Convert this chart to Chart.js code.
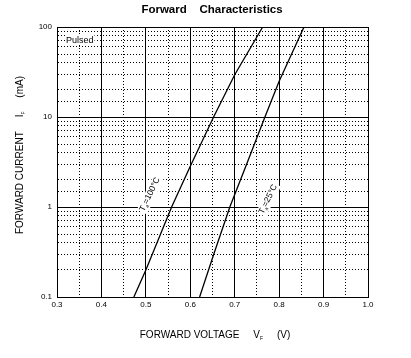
<!DOCTYPE html>
<html>
<head>
<meta charset="utf-8">
<script src="https://cdn.jsdelivr.net/npm/chart.js@4/dist/chart.umd.min.js"></script>
<style>
  html, body { margin: 0; padding: 0; background: #fff; }
  canvas { display: block; }
</style>
</head>
<body>
<canvas id="chart" width="411" height="358"></canvas>
<script>
// forward voltage (V) / forward current (mA)
const vf100 = [0.473, 0.5, 0.558, 0.6, 0.6525, 0.70, 0.763];
const if100 = [0.1, 0.2, 1, 2.83, 10, 29.5, 100];
const vf25 = [0.621, 0.653, 0.689, 0.727, 0.768, 0.80, 0.856];
const if25 = [0.1, 0.3, 1, 3, 10, 25, 100];
const yLabels = [0.1, 1, 10, 100];

const FONT = "'Liberation Sans', Arial, sans-serif";

const toPoints = (xs, ys) => xs.map((x, i) => ({ x: x, y: ys[i] }));
const isMajorX = v => Math.abs(v * 10 - Math.round(v * 10)) < 1e-6;
const isDecade = v => Math.abs(Math.log10(v) - Math.round(Math.log10(v))) < 1e-6;

// text drawn on top of the plot: notes, curve labels and axis titles
const notes = {
  id: "notes",
  afterDraw(chart) {
    const { ctx, scales, chartArea } = chart;
    const x = scales.x, y = scales.y;
    ctx.save();
    ctx.fillStyle = "#000";

    // "Pulsed"
    ctx.font = "9px " + FONT;
    ctx.textBaseline = "middle";
    ctx.textAlign = "left";
    const pw = ctx.measureText("Pulsed").width;
    ctx.fillStyle = "#fff";
    ctx.fillRect(chartArea.left + 8, 35, pw + 2, 10);
    ctx.fillStyle = "#000";
    ctx.fillText("Pulsed", chartArea.left + 9, 40.5);

    // Ta labels along the curves
    const tempLabel = (vx, vy, rest) => {
      const px = x.getPixelForValue(vx), py = y.getPixelForValue(vy);
      ctx.save();
      ctx.translate(px, py);
      ctx.rotate(-64 * Math.PI / 180);
      ctx.font = "8.5px " + FONT;
      const w1 = ctx.measureText("T").width;
      ctx.font = "5px " + FONT;
      const w2 = ctx.measureText("a").width;
      ctx.font = "8.5px " + FONT;
      const w3 = ctx.measureText(rest).width;
      const tw = w1 + w2 + w3;
      ctx.fillStyle = "#fff";
      ctx.fillRect(-tw / 2 - 1, -5, tw + 2, 11);
      ctx.fillStyle = "#000";
      ctx.textAlign = "left";
      ctx.textBaseline = "middle";
      ctx.fillText("T", -tw / 2, 0);
      ctx.font = "5px " + FONT;
      ctx.fillText("a", -tw / 2 + w1, 3);
      ctx.font = "8.5px " + FONT;
      ctx.fillText(rest, -tw / 2 + w1 + w2, 0);
      ctx.restore();
    };
    tempLabel(0.509, 1.38, "=100\u00b0C");
    tempLabel(0.775, 1.22, "=25\u00b0C");

    // axis titles with subscripts
    const drawTitle = (parts) => {
      let total = 0;
      parts.forEach(p => { ctx.font = p.size + "px " + FONT; p.w = ctx.measureText(p.t).width; total += p.w; });
      let cx = -total / 2;
      parts.forEach(p => {
        ctx.font = p.size + "px " + FONT;
        ctx.fillText(p.t, cx, p.dy || 0);
        cx += p.w;
      });
    };
    ctx.textAlign = "left";
    ctx.textBaseline = "middle";

    ctx.save();
    ctx.translate(215, 335);
    drawTitle([
      { t: "FORWARD VOLTAGE     V", size: 10 },
      { t: "F", size: 5, dy: 4 },
      { t: "     (V)", size: 10 }
    ]);
    ctx.restore();

    ctx.save();
    ctx.translate(20, 155);
    ctx.rotate(-Math.PI / 2);
    drawTitle([
      { t: "FORWARD CURRENT     I", size: 10 },
      { t: "F", size: 5, dy: 4 },
      { t: "     (mA)", size: 10 }
    ]);
    ctx.restore();

    ctx.restore();
  }
};

const lineStyle = { borderColor: "#000", borderWidth: 1.3, pointRadius: 0, showLine: true, tension: 0, fill: false };

new Chart(document.getElementById("chart"), {
  type: "scatter",
  data: {
    datasets: [
      Object.assign({ label: "Ta=100", data: toPoints(vf100, if100) }, lineStyle),
      Object.assign({ label: "Ta=25", data: toPoints(vf25, if25) }, lineStyle)
    ]
  },
  options: {
    responsive: false,
    animation: false,
    devicePixelRatio: 1,
    layout: { padding: { left: 13, right: 0, top: 0, bottom: 0 } },
    plugins: {
      legend: { display: false },
      tooltip: { enabled: false },
      title: {
        display: true,
        text: "Forward    Characteristics",
        color: "#000",
        font: { family: FONT, size: 11.5, weight: "bold" },
        padding: { top: 3, bottom: 10.2 }
      }
    },
    scales: {
      x: {
        type: "linear",
        min: 0.3,
        max: 1.0,
        afterFit: s => { s.height = 61; },
        ticks: {
          stepSize: 0.05,
          autoSkip: false,
          maxRotation: 0,
          padding: 3,
          color: "#000",
          font: { family: FONT, size: 8 },
          callback: v => isMajorX(v) ? v.toFixed(1) : ""
        },
        grid: {
          drawTicks: false,
          color: "#000",
          lineWidth: 1
        },
        border: {
          color: "#000",
          width: 1,
          dash: c => (c.tick && !isMajorX(c.tick.value)) ? [1, 2] : []
        }
      },
      y: {
        type: "logarithmic",
        min: 0.1,
        max: 100,
        afterFit: s => { s.width = 44; },
        ticks: {
          autoSkip: false,
          padding: 5,
          color: "#000",
          font: { family: FONT, size: 8 },
          callback: v => yLabels.some(l => Math.abs(l - v) < 1e-9) ? String(v) : ""
        },
        grid: {
          drawTicks: false,
          color: "#000",
          lineWidth: 1
        },
        border: {
          color: "#000",
          width: 1,
          dash: c => (c.tick && !isDecade(c.tick.value)) ? [1, 2] : []
        }
      },
      // empty right-hand margin so the title centres over the plot
      yRight: {
        type: "logarithmic",
        position: "right",
        min: 0.1,
        max: 100,
        afterFit: s => { s.width = 43; },
        ticks: { display: false },
        grid: { display: false, drawOnChartArea: false },
        border: { display: false }
      }
    }
  },
  plugins: [notes]
});
</script>
</body>
</html>
